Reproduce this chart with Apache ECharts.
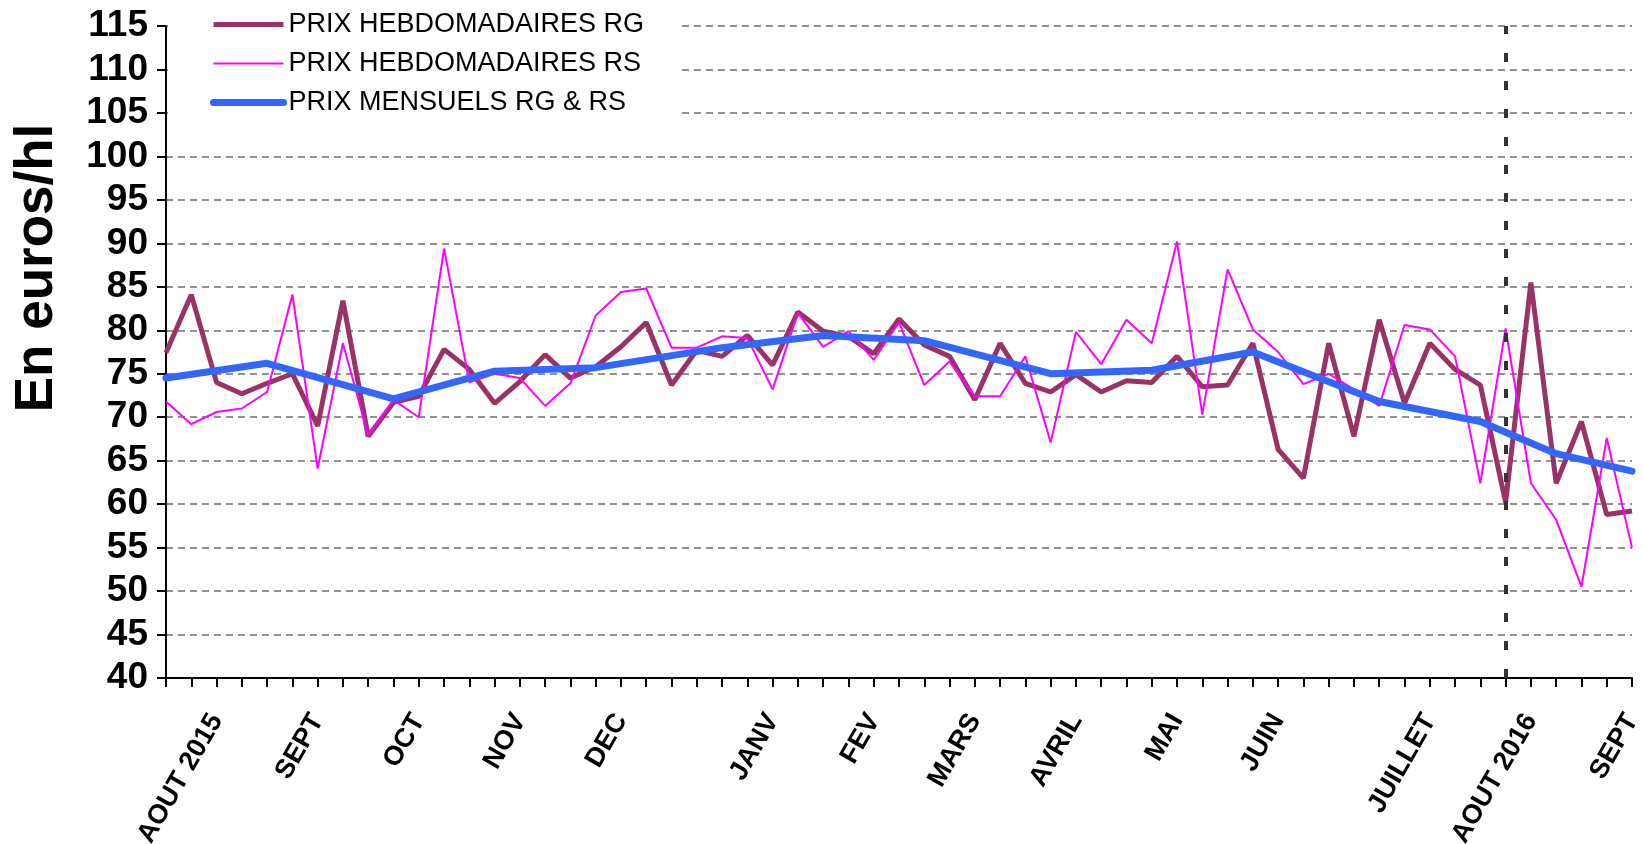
<!DOCTYPE html>
<html>
<head>
<meta charset="utf-8">
<title>Prix hebdomadaires RG / RS</title>
<script src="https://cdn.jsdelivr.net/npm/echarts@6.0.0/dist/echarts.min.js"></script>
<style>
	html, body { margin: 0; padding: 0; background: #fff; }
	#prixChart { width: 1643px; height: 844px; }
</style>
</head>
<body>
<div id="prixChart"></div>
<script>
// etiquettes de mois (une par semaine, vide sinon)
var moisLabels = [
	'', '', 'AOUT 2015', '', '', '', 'SEPT', '', '', '', 'OCT', '', '', '', 'NOV', '', '', '', 'DEC', '',
	'', '', '', '', 'JANV', '', '', '', 'FEV', '', '', '', 'MARS', '', '', '', 'AVRIL', '', '', '',
	'MAI', '', '', '', 'JUIN', '', '', '', '', '', 'JUILLET', '', '', '', 'AOUT 2016', '', '', '', 'SEPT'
];
// prix hebdomadaires RG (euros/hl)
var prixRG = [
	77.4, 84.1, 74.0, 72.7, 73.9, 75.0, 69.0, 83.4, 67.8, 71.7, 72.4, 77.8, 75.5, 71.6, 74.1, 77.2, 74.5, 75.8, 78.1, 80.9,
	73.7, 77.7, 77.0, 79.4, 76.0, 82.1, 79.9, 79.3, 77.3, 81.3, 78.3, 77.0, 72.0, 78.5, 73.9, 72.9, 74.9, 72.9, 74.2, 74.0,
	77.0, 73.5, 73.7, 78.5, 66.3, 63.0, 78.5, 67.8, 81.2, 71.6, 78.5, 75.5, 73.7, 60.2, 85.5, 62.4, 69.5, 58.8, 59.2
];
// prix hebdomadaires RS (euros/hl)
var prixRS = [
	71.8, 69.2, 70.6, 71.0, 72.9, 84.1, 64.1, 78.5, 67.9, 72.0, 70.0, 89.4, 74.0, 75.0, 74.5, 71.3, 73.9, 81.7, 84.4, 84.8,
	78.0, 78.0, 79.3, 79.1, 73.2, 82.0, 78.1, 79.9, 76.6, 80.9, 73.7, 76.4, 72.4, 72.4, 77.0, 67.1, 79.8, 76.1, 81.2, 78.5,
	90.2, 70.3, 87.0, 80.1, 77.5, 73.8, 75.0, 73.2, 71.3, 80.6, 80.1, 77.0, 62.4, 80.2, 62.4, 58.2, 50.5, 67.6, 55.0
];
// prix mensuels RG & RS : semaine du point et valeur
var mensuelsSemaine = [0, 4, 9, 13, 17, 22, 26, 30, 35, 39, 43, 48, 52, 55, 58];
var mensuelsPrix = [74.5, 76.2, 72.1, 75.3, 75.7, 78.0, 79.4, 78.8, 75.0, 75.4, 77.5, 71.8, 69.5, 65.8, 63.8];
// axe des valeurs
var yMin = 40, yMax = 115, yPas = 5;
// semaine du trait vertical (aout 2016)
var semaineAout2016 = 53;

var police = '"Liberation Sans", Arial, sans-serif';

var semaines = moisLabels.map(function(l, i) { return 'S' + (i + 1); });
var prixMensuels = semaines.map(function() { return null; });
mensuelsSemaine.forEach(function(s, k) { prixMensuels[s] = mensuelsPrix[k]; });

var myChart = echarts.init(document.getElementById('prixChart'));
var option = {
	animation: false,
	backgroundColor: '#fff',
	grid: { left: 166, right: 11, top: 26, bottom: 166, containLabel: false, outerBoundsMode: 'none' },
	legend: {
		orient: 'vertical',
		left: 168,
		top: 0,
		padding: [11, 36, 10, 42],
		itemGap: 12,
		itemWidth: 70,
		itemHeight: 26,
		backgroundColor: '#fff',
		textStyle: { fontSize: 27, color: '#000', fontFamily: police },
		lineStyle: { width: 'inherit' },
		// pas de rond dans l'icone, seulement le trait
		itemStyle: { color: 'rgba(0,0,0,0)', borderColor: 'rgba(0,0,0,0)', borderWidth: 0 },
		data: ['PRIX HEBDOMADAIRES RG', 'PRIX HEBDOMADAIRES RS', 'PRIX MENSUELS RG & RS']
	},
	graphic: [{
		type: 'text',
		x: 37,
		y: 268,
		rotation: Math.PI / 2,
		style: {
			text: 'En euros/hl',
			font: 'bold 53px ' + police,
			fill: '#000',
			align: 'center', verticalAlign: 'middle',
			textAlign: 'center', textVerticalAlign: 'middle'
		}
	}],
	xAxis: {
		type: 'category',
		data: semaines,
		boundaryGap: false,
		axisLine: { lineStyle: { color: '#000', width: 2 } },
		axisTick: { show: true, interval: 0, length: 9, lineStyle: { color: '#000', width: 2 } },
		axisLabel: {
			interval: 0,
			rotate: 60,
			margin: 38,
			fontSize: 27,
			fontWeight: 'bold',
			fontFamily: police,
			color: '#000',
			formatter: function(v, i) { return moisLabels[i]; }
		},
		splitLine: { show: false }
	},
	yAxis: {
		type: 'value',
		min: yMin,
		max: yMax,
		interval: yPas,
		axisLine: { show: true, lineStyle: { color: '#000', width: 2 } },
		axisTick: { show: true, length: 9, lineStyle: { color: '#000', width: 2 } },
		axisLabel: { color: '#000', fontSize: 37, fontWeight: 'bold', fontFamily: police, margin: 18 },
		splitLine: { show: true, lineStyle: { color: '#6e6e6e', width: 1.5, type: [7, 5] } }
	},
	series: [
		{
			name: 'PRIX HEBDOMADAIRES RG',
			type: 'line',
			data: prixRG,
			symbol: 'none',
			itemStyle: { color: '#993366' },
			lineStyle: { color: '#993366', width: 5 }
		},
		{
			name: 'PRIX HEBDOMADAIRES RS',
			type: 'line',
			data: prixRS,
			symbol: 'none',
			itemStyle: { color: '#FF00FF' },
			lineStyle: { color: '#FF00FF', width: 2 }
		},
		{
			name: 'PRIX MENSUELS RG & RS',
			type: 'line',
			data: prixMensuels,
			connectNulls: true,
			symbol: 'none',
			itemStyle: { color: '#3366FF' },
			lineStyle: { color: '#3366FF', width: 7, cap: 'round', join: 'round' },
			markLine: {
				silent: true,
				symbol: ['none', 'none'],
				label: { show: false },
				lineStyle: { color: '#333', width: 4, type: [9, 19] },
				data: [{ xAxis: semaines[semaineAout2016] }]
			}
		}
	]
};
myChart.setOption(option);
</script>
</body>
</html>
